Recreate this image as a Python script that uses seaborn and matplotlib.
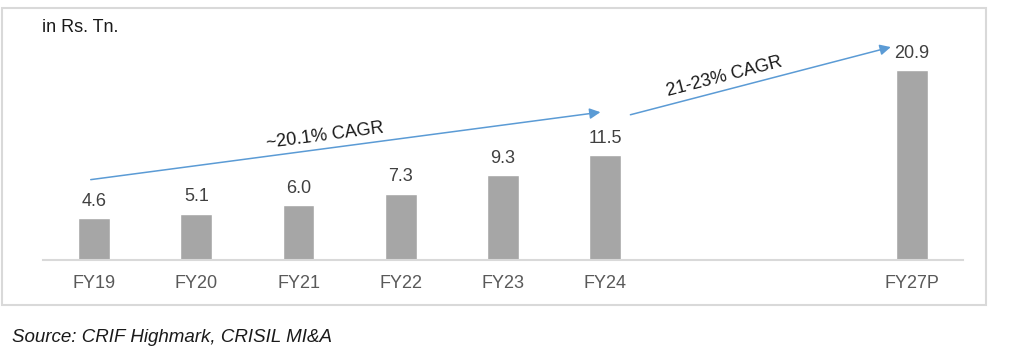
import pandas as pd
import matplotlib.pyplot as plt
import seaborn as sns
from matplotlib.patches import Rectangle

years = ['FY19', 'FY20', 'FY21', 'FY22', 'FY23', 'FY24', 'FY27P']
values = [4.6, 5.1, 6.0, 7.3, 9.3, 11.5, 20.9]
# slots on the axis, FY25 and FY26 are left empty
slots = ['FY19', 'FY20', 'FY21', 'FY22', 'FY23', 'FY24', 'FY25', 'FY26', 'FY27P']
tick_labels = ['FY19', 'FY20', 'FY21', 'FY22', 'FY23', 'FY24', '', '', 'FY27P']

df = pd.DataFrame({'year': years, 'value': values})

sns.set_style('white')
plt.rcParams['font.family'] = ['Liberation Sans', 'DejaVu Sans']

fig = plt.figure(figsize=(10.24, 3.62), dpi=100)
ax = fig.add_axes([43 / 1024, 102 / 362, 920 / 1024, 240 / 362])

sns.barplot(data=df, x='year', y='value', order=slots, color='#a6a6a6',
            width=0.31, saturation=1, ax=ax)

for c in ax.containers:
    ax.bar_label(c, fmt='%.1f', padding=6, fontsize=13, color='#404040')

ax.set_xlim(-0.5, 8.5)
ax.set_ylim(0, 26.4)
ax.set_xticks(range(len(slots)))
ax.set_xticklabels(tick_labels, fontsize=13, color='#595959')
ax.tick_params(axis='x', length=0, pad=11)
ax.set_yticks([])
ax.set_xlabel('')
ax.set_ylabel('')
for s in ['top', 'right', 'left']:
    ax.spines[s].set_visible(False)
ax.spines['bottom'].set_color('#d9d9d9')
ax.spines['bottom'].set_linewidth(1.5)

# CAGR arrows
arrow_style = dict(arrowstyle='-|>', color='#5b9bd5', lw=1.1, mutation_scale=16)
ax.annotate('', xy=(4.98, 16.3), xytext=(-0.06, 8.8), arrowprops=arrow_style,
            annotation_clip=False)
ax.annotate('', xy=(7.82, 23.5), xytext=(5.22, 15.9), arrowprops=arrow_style,
            annotation_clip=False)
ax.text(2.26, 13.7, '~20.1% CAGR', fontsize=13, color='#1a1a1a',
        rotation=7.5, ha='center', va='center')
ax.text(6.17, 20.1, '21-23% CAGR', fontsize=13, color='#1a1a1a',
        rotation=14.5, ha='center', va='center')

fig.text(42 / 1024, 1 - 27 / 362, 'in Rs. Tn.', fontsize=13, color='#1a1a1a',
         va='center', ha='left')
fig.text(12 / 1024, 1 - 338 / 362, 'Source: CRIF Highmark, CRISIL MI&A',
         fontsize=13.5, style='italic', color='#1a1a1a', va='center', ha='left')

# outer frame
fig.patches.append(Rectangle((2 / 1024, 57 / 362), 984 / 1024, 297 / 362,
                             transform=fig.transFigure, fill=False,
                             edgecolor='#d9d9d9', linewidth=1.5))

fig.savefig('out.png', dpi=100)
